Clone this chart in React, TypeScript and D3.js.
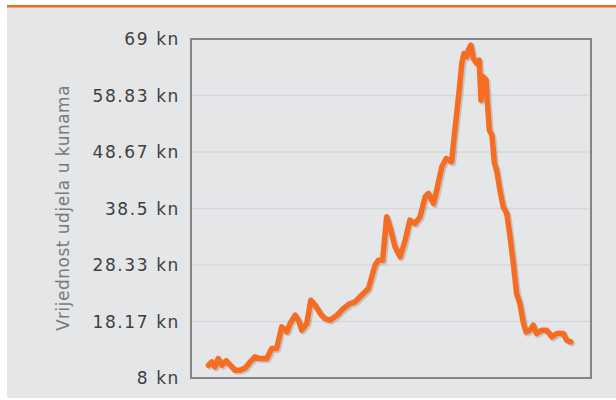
import React, { useEffect, useRef } from 'react';
import * as d3 from 'd3';

// time index (weeks, roughly) and share value in kn
const weeks = [
  0.1, 1.0, 1.9, 2.8, 3.8, 5.0, 6.1, 7.4, 8.8, 10.2, 11.6, 12.9, 14.3, 16.2, 17.5, 18.9,
  20.3, 21.7, 22.6, 24.0, 24.9, 25.8, 27.2, 28.3, 29.5, 30.9, 32.2, 33.6, 35.5, 37.3,
  39.1, 40.5, 41.4, 42.8, 44.2, 45.1, 46.0, 46.9, 48.1, 49.2, 50.1, 51.5, 52.9, 54.3,
  55.6, 57.0, 58.4, 59.8, 60.7, 62.1, 63.0, 64.4, 65.6, 67.1, 67.8, 68.5, 69.2, 69.9,
  70.5, 71.3, 71.7, 72.4, 73.1, 74.0, 74.7, 75.2, 75.8, 76.6, 76.9, 77.5, 78.2, 78.9,
  79.5, 80.4, 81.3, 82.3, 83.2, 84.1, 85.0, 85.9, 86.9, 87.6, 88.7, 89.6, 90.5, 91.9,
  93.3, 94.7, 96.1, 97.9, 98.8, 99.9,
];
const values = [
  10.3, 10.9, 10.0, 11.5, 10.3, 11.1, 10.3, 9.4, 9.4, 9.8, 10.9, 11.8, 11.5, 11.5, 13.3, 13.3,
  17.2, 16.3, 17.8, 19.3, 18.4, 16.6, 17.8, 22.0, 21.1, 19.6, 18.7, 18.4, 19.3, 20.5,
  21.4, 21.7, 22.3, 23.2, 24.1, 26.2, 28.3, 29.2, 29.2, 37.0, 35.2, 31.6, 29.8, 32.8,
  36.4, 35.8, 37.0, 40.6, 41.2, 39.4, 41.8, 46.0, 47.5, 46.9, 51.4, 55.6, 59.8, 64.6,
  66.4, 65.8, 67.0, 67.9, 65.5, 64.6, 65.2, 58.0, 62.2, 61.6, 58.0, 52.6, 51.7, 46.6,
  45.4, 41.8, 38.8, 37.6, 33.4, 28.6, 23.2, 21.4, 17.8, 16.3, 16.6, 17.5, 16.0, 16.6,
  16.6, 15.4, 16.0, 16.0, 14.8, 14.5,
];
const yTicks = [8, 18.17, 28.33, 38.5, 48.67, 58.83, 69];
const yTitle = 'Vrijednost udjela u kunama';

const W = 616;
const H = 400;
const plot = { left: 191, right: 591, top: 39, bottom: 378 };

export default function App() {
  const svgRef = useRef<SVGSVGElement>(null);

  useEffect(() => {
    const svg = d3.select(svgRef.current);
    svg.selectAll('*').remove();

    svg.append('rect').attr('x', 7).attr('y', 6).attr('width', W - 7).attr('height', H - 8).attr('fill', '#e5e6e8');
    svg.append('rect').attr('x', 7).attr('y', 5).attr('width', W - 7).attr('height', 2.5).attr('fill', '#f26a21');

    const x = d3.scaleLinear().domain([-4.7, 105.5]).range([plot.left, plot.right]);
    const y = d3.scaleLinear().domain([8, 69]).range([plot.bottom, plot.top]);

    // grid
    svg.append('g')
      .selectAll('line')
      .data(yTicks.slice(1, -1))
      .join('line')
      .attr('x1', plot.left)
      .attr('x2', plot.right)
      .attr('y1', (d) => y(d))
      .attr('y2', (d) => y(d))
      .attr('stroke', '#d6d7d9')
      .attr('stroke-width', 1.5);

    // frame
    svg.append('rect')
      .attr('x', plot.left)
      .attr('y', plot.top)
      .attr('width', plot.right - plot.left)
      .attr('height', plot.bottom - plot.top)
      .attr('fill', 'none')
      .attr('stroke', '#858585')
      .attr('stroke-width', 2);

    // y labels
    svg.append('g')
      .selectAll('text')
      .data(yTicks)
      .join('text')
      .attr('x', 180)
      .attr('y', (d) => y(d))
      .attr('dy', '0.36em')
      .attr('text-anchor', 'end')
      .attr('font-family', 'DejaVu Sans')
      .attr('font-size', 17)
      .attr('letter-spacing', 1.6)
      .attr('fill', '#404040')
      .text((d) => `${d} kn`);

    svg.append('text')
      .attr('transform', `translate(69, 208) rotate(-90)`)
      .attr('text-anchor', 'middle')
      .attr('font-family', 'DejaVu Sans')
      .attr('font-size', 17)
      .attr('letter-spacing', 0.5)
      .attr('fill', '#7a7a7a')
      .text(yTitle);

    const pts: [number, number][] = weeks.map((w, i) => [w, values[i]]);
    const line = d3.line<[number, number]>()
      .x((d) => x(d[0]))
      .y((d) => y(d[1]))
      .curve(d3.curveLinear);

    svg.append('path')
      .datum(pts)
      .attr('d', line)
      .attr('transform', 'translate(1.5,1.5)')
      .attr('fill', 'none')
      .attr('stroke', '#000')
      .attr('stroke-opacity', 0.15)
      .attr('stroke-width', 6)
      .attr('stroke-linejoin', 'round')
      .attr('stroke-linecap', 'round');

    svg.append('path')
      .datum(pts)
      .attr('d', line)
      .attr('fill', 'none')
      .attr('stroke', '#f66d22')
      .attr('stroke-width', 5.5)
      .attr('stroke-linejoin', 'round')
      .attr('stroke-linecap', 'round');
  }, []);

  return (
    <div style={{ position: 'absolute', left: 0, top: 0 }}>
      <svg ref={svgRef} width={W} height={H} style={{ display: 'block', background: '#fff' }} />
    </div>
  );
}
